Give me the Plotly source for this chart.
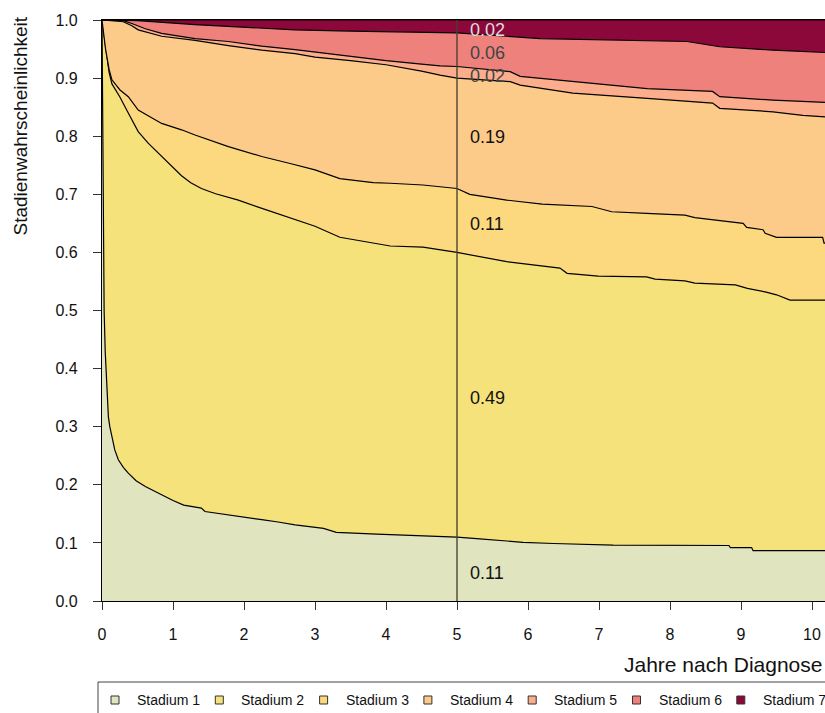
import numpy as np
import plotly.graph_objects as go

# Stage names and fill colours
stages = ["Stadium 1", "Stadium 2", "Stadium 3", "Stadium 4",
          "Stadium 5", "Stadium 6", "Stadium 7"]
stage_colors = ["#E0E4BF", "#F6E27A", "#FCD97E", "#FDCB89",
                "#FCAE8C", "#EE817B", "#8C083B"]
label_colors = ["#111111", "#111111", "#111111", "#111111",
                "#444444", "#444444", "#DDDDDD"]

# Cumulative stage probabilities (upper edge of stages 1..6) over years since diagnosis
t_s1 = [0, 0.005, 0.015, 0.03, 0.045, 0.066, 0.09, 0.11, 0.136, 0.18, 0.23, 0.3,
        0.37, 0.48, 0.61, 0.72, 0.84, 1.0, 1.15, 1.4, 1.45, 1.7, 2.01, 2.25, 2.48,
        2.72, 3.12, 3.3, 3.87, 4.62, 5.0, 5.32, 5.6, 5.93, 6.36, 6.87, 7.2, 8.83,
        8.85, 9.15, 9.17, 10.2]
p_s1 = [1.0, 0.90, 0.70, 0.50, 0.43, 0.375, 0.317, 0.30, 0.283, 0.26, 0.243, 0.23,
        0.22, 0.207, 0.197, 0.19, 0.182, 0.173, 0.165, 0.16, 0.154, 0.15, 0.145,
        0.14, 0.136, 0.131, 0.125, 0.118, 0.115, 0.112, 0.11, 0.107, 0.104, 0.101,
        0.099, 0.0975, 0.096, 0.0955, 0.092, 0.092, 0.0866, 0.0866]

t_s2 = [0, 0.03, 0.06, 0.1, 0.14, 0.25, 0.37, 0.51, 0.65, 0.84, 1.0, 1.12, 1.25,
        1.4, 1.6, 1.92, 2.2, 2.65, 3.0, 3.35, 3.82, 4.06, 4.52, 5.0, 5.7, 6.45,
        6.55, 6.99, 7.67, 7.79, 8.21, 8.35, 8.92, 9.09, 9.34, 9.5, 9.69, 10.2]
p_s2 = [1.0, 0.97, 0.94, 0.91, 0.89, 0.868, 0.84, 0.808, 0.788, 0.765, 0.745,
        0.732, 0.72, 0.71, 0.701, 0.69, 0.678, 0.659, 0.645, 0.626, 0.616, 0.611,
        0.609, 0.60, 0.584, 0.573, 0.564, 0.559, 0.558, 0.554, 0.551, 0.547,
        0.544, 0.538, 0.532, 0.527, 0.518, 0.518]

t_s3 = [0, 0.05, 0.1, 0.14, 0.25, 0.37, 0.51, 0.84, 1.12, 1.31, 1.78, 2.25, 2.65,
        3.0, 3.35, 3.82, 4.06, 4.52, 5.0, 5.18, 5.7, 6.2, 6.9, 7.18, 7.67, 8.21,
        8.35, 8.61, 9.03, 9.08, 9.31, 9.34, 9.5, 10.15, 10.17, 10.2]
p_s3 = [1.0, 0.95, 0.915, 0.897, 0.88, 0.868, 0.845, 0.822, 0.811, 0.802, 0.782,
        0.765, 0.753, 0.742, 0.727, 0.72, 0.719, 0.716, 0.71, 0.70, 0.69, 0.683,
        0.679, 0.67, 0.667, 0.664, 0.66, 0.656, 0.65, 0.643, 0.639, 0.633, 0.626,
        0.626, 0.616, 0.616]

t_s4 = [0, 0.3, 0.42, 0.51, 0.84, 1.31, 1.78, 2.25, 2.72, 3.0, 3.5, 4.0, 4.5,
        4.76, 5.0, 5.75, 5.89, 6.63, 7.68, 8.6, 8.7, 9.45, 9.87, 10.2]
p_s4 = [1.0, 0.997, 0.99, 0.983, 0.972, 0.965, 0.956, 0.948, 0.942, 0.936, 0.93,
        0.923, 0.912, 0.905, 0.90, 0.894, 0.888, 0.874, 0.865, 0.857, 0.848,
        0.842, 0.836, 0.833]

t_s5 = [0, 0.3, 0.42, 0.61, 0.84, 1.31, 1.78, 2.25, 2.72, 3.0, 3.5, 4.0, 4.5,
        4.76, 5.0, 5.75, 5.89, 6.63, 7.68, 8.6, 8.7, 9.45, 10.2]
p_s5 = [1.0, 0.999, 0.994, 0.985, 0.977, 0.968, 0.963, 0.955, 0.949, 0.945, 0.937,
        0.93, 0.924, 0.921, 0.92, 0.911, 0.903, 0.894, 0.882, 0.877, 0.868,
        0.862, 0.858]

t_s6 = [0, 0.5, 1.31, 2.0, 2.72, 3.5, 4.0, 4.76, 5.0, 6.17, 8.24, 8.7, 9.45, 10.2]
p_s6 = [1.0, 0.999, 0.992, 0.988, 0.983, 0.981, 0.98, 0.978, 0.978, 0.968, 0.963,
        0.954, 0.948, 0.944]

t_s7 = [0, 10.2]
p_s7 = [1.0, 1.0]

x_ticks = list(range(0, 11))
y_ticks = [round(0.1 * i, 1) for i in range(11)]
t_mark = 5.0

curves_t = [t_s1, t_s2, t_s3, t_s4, t_s5, t_s6, t_s7]
curves_p = [p_s1, p_s2, p_s3, p_s4, p_s5, p_s6, p_s7]

FONT = "Liberation Sans, Arial, Helvetica, sans-serif"
W, H = 825, 713
ML, MR, MT, MB = 102, 0, 20, 112
PW, PH = W - ML - MR, H - MT - MB
X_MAX = PW / 71.0  # 71 px per year


def px_x(px):
    return (px - ML) / PW


def px_y(py):
    return (H - MB - py) / PH


fig = go.Figure()
for i, (tt, pp) in enumerate(zip(curves_t, curves_p)):
    fig.add_trace(go.Scatter(
        x=tt, y=pp, mode="lines",
        line=dict(color="black", width=1.2),
        fill="tozeroy" if i == 0 else "tonexty",
        fillcolor=stage_colors[i],
        name=stages[i], showlegend=False, hoverinfo="skip",
    ))

# marker line at 5 years
fig.add_shape(type="line", x0=t_mark, x1=t_mark, y0=0, y1=1, xref="x", yref="y",
              line=dict(color="rgba(70,66,45,0.85)", width=1.6))

# stage shares at 5 years
upper = [float(np.interp(t_mark, tt, pp)) for tt, pp in zip(curves_t, curves_p)]
lower = [0.0] + upper[:-1]
for i in range(len(stages)):
    share = upper[i] - lower[i]
    fig.add_annotation(x=t_mark + 0.15, y=(upper[i] + lower[i]) / 2 - 0.006,
                       xref="x", yref="y", text=f"{share:.2f}", showarrow=False,
                       xanchor="left", yanchor="middle",
                       font=dict(family=FONT, size=18, color=label_colors[i]))

# axis titles
fig.add_annotation(x=px_x(20), y=px_y(15), xref="paper", yref="paper",
                   text="Stadienwahrscheinlichkeit", textangle=-90, showarrow=False,
                   xanchor="center", yanchor="top",
                   font=dict(family=FONT, size=19, color="#111"))
fig.add_annotation(x=px_x(622), y=px_y(664), xref="paper", yref="paper",
                   text="Jahre nach Diagnose", showarrow=False,
                   xanchor="left", yanchor="middle",
                   font=dict(family=FONT, size=21, color="#111"))

# legend box
fig.add_shape(type="rect", xref="paper", yref="paper",
              x0=px_x(98), x1=px_x(900), y0=px_y(682), y1=px_y(760),
              line=dict(color="#444", width=1), fillcolor="white")
for i, name in enumerate(stages):
    sx = 111 + i * 104.3
    fig.add_shape(type="rect", xref="paper", yref="paper",
                  x0=px_x(sx), x1=px_x(sx + 8), y0=px_y(704), y1=px_y(696),
                  line=dict(color="#333", width=1), fillcolor=stage_colors[i])
    fig.add_annotation(x=px_x(sx + 24), y=px_y(700), xref="paper", yref="paper",
                       text=name, showarrow=False, xanchor="left", yanchor="middle",
                       font=dict(family=FONT, size=14, color="#111"))

fig.update_layout(
    width=W, height=H,
    margin=dict(l=ML, r=MR, t=MT, b=MB, pad=0),
    paper_bgcolor="white", plot_bgcolor="white",
    font=dict(family=FONT, size=16, color="#111"),
    showlegend=False,
)
fig.update_xaxes(range=[0, X_MAX], tickvals=x_ticks, ticktext=[str(v) for v in x_ticks],
                 showgrid=False, zeroline=False, showline=True, linecolor="black",
                 linewidth=1.3, mirror=True, ticks="outside", ticklen=8,
                 tickcolor="#333", tickwidth=1.2, ticklabelstandoff=11,
                 tickfont=dict(family=FONT, size=16, color="#111"))
fig.update_yaxes(range=[0, 1], tickvals=y_ticks, tickformat=".1f",
                 showgrid=False, zeroline=False, showline=True, linecolor="black",
                 linewidth=1.3, ticks="outside", ticklen=8,
                 tickcolor="#333", tickwidth=1.2, ticklabelstandoff=12,
                 tickfont=dict(family=FONT, size=16, color="#111"))

fig.write_html("out.html")
